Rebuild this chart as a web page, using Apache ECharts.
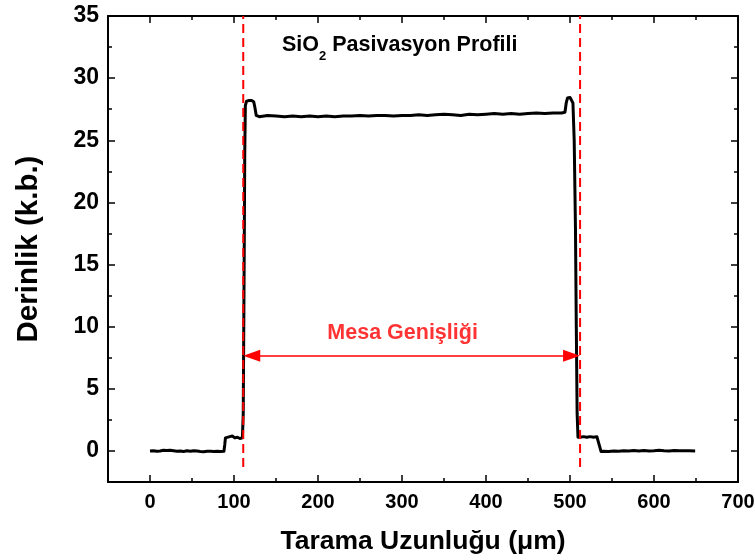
<!DOCTYPE html>
<html><head><meta charset="utf-8">
<script src="https://cdn.jsdelivr.net/npm/echarts@6/dist/echarts.min.js"></script>
<style>html,body{margin:0;padding:0;background:#fff}#c{width:755px;height:560px}</style>
</head><body><div id="c"></div>
<script>
// ---- data ----
const profileX = [0,4,8,12,16,20,24,28,32,36,40,44,48,52,56,60,64,68,72,76,80,84,88,89,89.8,92,95,98,101,104,107,110,
  111,112,112.8,113.5,115,118,121,123.5,125,126.5,130,140,150,160,170,180,190,200,210,220,230,240,250,260,270,280,290,
  300,310,320,330,340,350,360,370,380,390,400,410,420,430,440,450,460,470,480,490,494,495.5,497,500,502,503.5,505,506.5,
  507.5,508.5,509.5,512,516,520,524,528,532,534,535.5,537,540,546,552,558,564,570,576,582,588,594,600,606,612,618,624,630,636,642,649];
const profileY = [0.0,0.02,-0.03,0.0,0.05,0.03,0.06,0.02,-0.02,0.0,-0.04,0.01,-0.03,0.02,-0.01,-0.04,-0.06,-0.02,-0.03,-0.05,-0.03,-0.04,-0.03,0.5,1.05,1.0,1.15,1.2,1.05,1.1,1.0,1.05,
  3,14,24,27.8,28.15,28.2,28.2,28.1,27.6,27.0,26.9,27.0,26.95,26.9,26.95,26.9,26.95,26.9,26.95,26.9,26.95,26.95,27.0,26.95,27.0,27.0,26.95,
  27.0,27.0,27.05,27.0,27.05,27.1,27.05,27.0,27.1,27.05,27.1,27.15,27.1,27.15,27.1,27.15,27.2,27.15,27.2,27.2,27.25,28.0,28.4,28.45,28.4,28.0,25,18,
  10,3,1.1,1.1,1.15,1.1,1.15,1.1,1.15,1.0,0.3,-0.05,-0.02,-0.05,0.0,-0.03,0.02,0.0,0.03,-0.01,0.04,0.0,0.02,0.05,0.02,0.0,0.03,0.01,0.02,0.01,0.0];
const mesaEdges = [111, 512];
const dashSpan = [-1.3, 35];
const arrowLevel = 7.65;
const mesaLabelPos = [300.7, 9.5];
const xMajorTicks = [0,100,200,300,400,500,600,700];
const yMajorTicks = [0,5,10,15,20,25,30,35];
const xRange = [-50, 700];
const yRange = [-2.5, 35];

// ---- chart ----
const F = '"Liberation Sans", Arial, sans-serif';
const RED = '#ff0000';
const chart = echarts.init(document.getElementById('c'), null, {renderer:'canvas'});
function ax(pos, minor, isX, withLabels) {
  const r = isX ? xRange : yRange;
  const o = {
    type:'value', position:pos, min:r[0], max:r[1], interval: isX ? 50 : 2.5,
    splitLine:{show:false},
    axisLine:{show: minor, onZero:false, lineStyle:{color:'#000', width:2}},
    axisTick:{show:true, inside:true, length: minor ? 4 : 7, lineStyle:{color:'#000', width:1.5}},
    axisLabel:{show:false}
  };
  if (!minor) o.axisTick.customValues = isX ? xMajorTicks : yMajorTicks;
  if (withLabels) {
    o.axisLabel = {show:true, color:'#000', fontWeight:'bold', fontSize: isX ? 20 : 23, fontFamily: F,
      margin: isX ? 10 : 9,
      formatter: v => (Math.abs(v % (isX?100:5)) < 1e-9 ? String(v) : '')};
    o.name = isX ? 'Tarama Uzunluğu (μm)' : 'Derinlik (k.b.)';
    o.nameLocation = 'middle';
    o.nameGap = isX ? 46 : 64;
    o.nameTextStyle = isX ? {color:'#000', fontWeight:'bold', fontSize:26.5, fontFamily:F}
                          : {color:'#000', fontWeight:'bold', fontSize:29.5, fontFamily:F};
  }
  return o;
}
const profile = profileX.map((x,i)=>[x, profileY[i]]);
const arrowSym = [12, 17];
const option = {
  animation:false,
  backgroundColor:'#fff',
  grid:{left:108, top:16, right:17, bottom:78, containLabel:false, outerBoundsMode:'none'},
  title:{
    text:'{a|SiO}{b|2}{a| Pasivasyon Profili}', left:282, top:30, padding:0,
    textStyle:{rich:{
      a:{fontSize:21.5, fontWeight:'bold', fontFamily:F, color:'#000', lineHeight:26, verticalAlign:'bottom'},
      b:{fontSize:13, fontWeight:'bold', fontFamily:F, color:'#000', lineHeight:26, verticalAlign:'bottom', padding:[0,0,-7,0]}
    }}
  },
  xAxis:[ax('bottom',true,true,true), ax('bottom',false,true,false), ax('top',true,true,false), ax('top',false,true,false)],
  yAxis:[ax('left',true,false,true), ax('left',false,false,false), ax('right',true,false,false), ax('right',false,false,false)],
  series:[
    {type:'line', name:'left edge', data: dashSpan.map(y=>[mesaEdges[0], y]), showSymbol:false, z:3,
      lineStyle:{color:RED, width:2, type:[9,5]}},
    {type:'line', name:'right edge', data: dashSpan.map(y=>[mesaEdges[1], y]), showSymbol:false, z:3,
      lineStyle:{color:RED, width:2, type:[9,5]}},
    {type:'line', name:'profile', data: profile, showSymbol:false, z:2,
      lineStyle:{color:'#000', width:3, join:'round'}},
    {type:'scatter', name:'mesa', data:[mesaLabelPos], symbolSize:0, z:4,
      label:{show:true, position:'inside', formatter:'Mesa Genişliği', color:RED, fontWeight:'bold', fontSize:21.5, fontFamily:F}}
  ]
};
chart.setOption(option);
// arrow: tips touch the mesa edges (shift endpoints inward by half the arrow head length)
const pL = chart.convertToPixel({xAxisIndex:0}, mesaEdges[0]) + arrowSym[1]/2;
const pR = chart.convertToPixel({xAxisIndex:0}, mesaEdges[1]) - arrowSym[1]/2;
const xL = chart.convertFromPixel({xAxisIndex:0}, pL);
const xR = chart.convertFromPixel({xAxisIndex:0}, pR);
chart.setOption({series:[{}, {}, {}, {}, {
  type:'line', name:'mesa arrow', data:[], z:3,
  markLine:{silent:true, symbol:['triangle','triangle'], symbolSize:arrowSym,
    lineStyle:{color:RED, width:1.5, type:'solid'}, label:{show:false},
    data:[[{coord:[xL, arrowLevel]},{coord:[xR, arrowLevel]}]]}
}]});
</script></body></html>
